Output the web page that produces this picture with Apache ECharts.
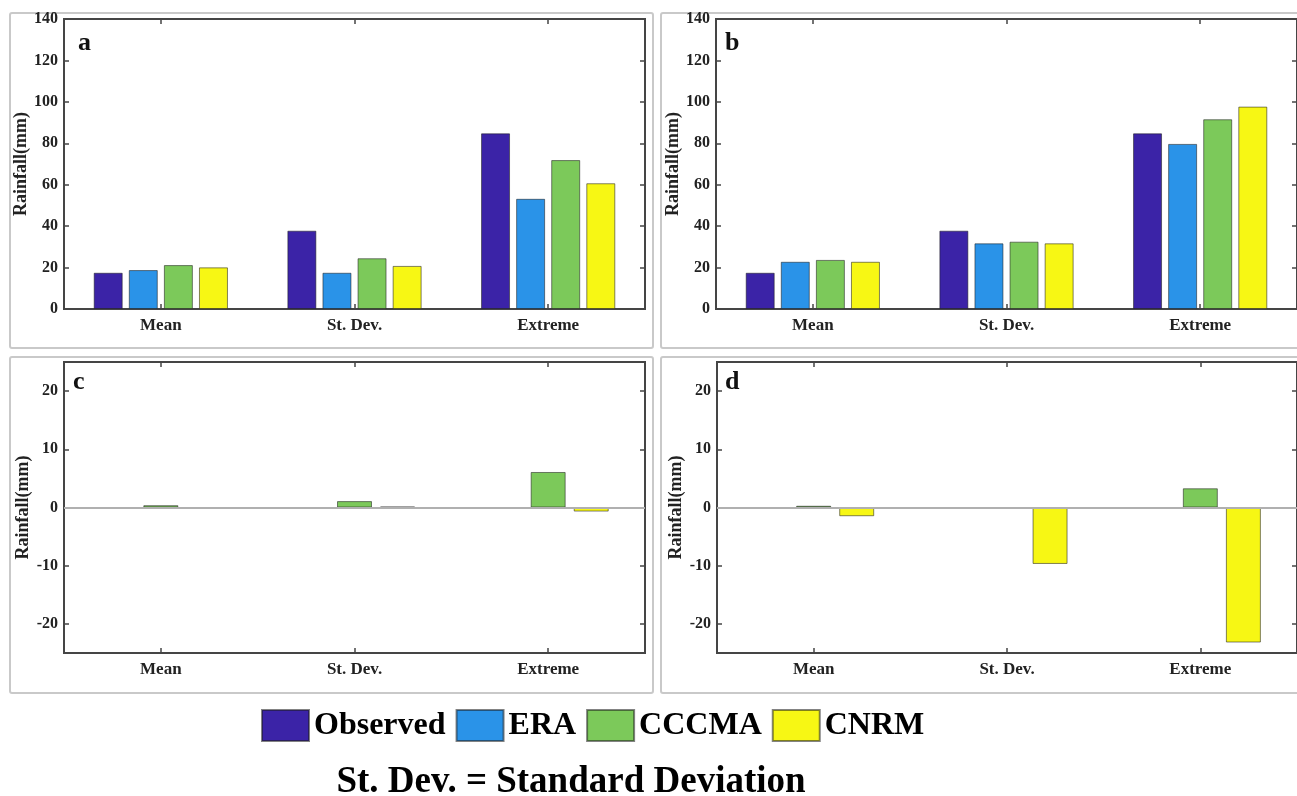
<!DOCTYPE html>
<html>
<head>
<meta charset="utf-8">
<script src="https://cdn.jsdelivr.net/npm/echarts@6/dist/echarts.min.js"></script>
<style>
html,body{margin:0;padding:0;background:#fff;}
#chart{width:1297px;height:796px;}
</style>
</head>
<body>
<div id="chart"></div>
<script>
// ---- Data ----
const categories = ['Mean', 'St. Dev.', 'Extreme'];
const seriesNames = ['Observed', 'ERA', 'CCCMA', 'CNRM'];
const topTicks = [0, 20, 40, 60, 80, 100, 120, 140];
const bottomTicks = [-20, -10, 0, 10, 20];

// panel a
const aObserved = [17.5, 37.8, 84.8];
const aERA = [18.8, 17.5, 53.2];
const aCCCMA = [21.2, 24.5, 71.9];
const aCNRM = [20.1, 20.8, 60.7];
// panel b
const bObserved = [17.5, 37.8, 84.8];
const bERA = [22.8, 31.7, 79.7];
const bCCCMA = [23.7, 32.5, 91.6];
const bCNRM = [22.8, 31.7, 97.7];
// panel c
const cERA = [0, 0, 0];
const cCCCMA = [0.4, 1.1, 6.1];
const cCNRM = [0, 0.15, -0.7];
// panel d
const dERA = [0, 0, 0];
const dCCCMA = [0.3, -0.2, 3.3];
const dCNRM = [-1.5, -9.7, -23.2];

const colors = {Observed: '#3B23A7', ERA: '#2A93E8', CCCMA: '#7CC95A', CNRM: '#F7F714'};
const FONT = "'Liberation Serif', 'DejaVu Serif', serif";
const AXC = '#454545';

const grids = [
  {left: 64, top: 19, width: 581, height: 290},
  {left: 716, top: 19, width: 581, height: 290},
  {left: 64, top: 362, width: 581, height: 291},
  {left: 717, top: 362, width: 580, height: 291}
];
const nameGaps = [34, 32, 31, 32];

const xAxes = [], yAxes = [];
grids.forEach((g, i) => {
  g.show = true; g.borderColor = AXC; g.borderWidth = 2; g.backgroundColor = '#fff';
  // bottom
  xAxes.push({type: 'category', gridIndex: i, data: categories, position: 'bottom',
    axisLine: {show: false, onZero: false},
    axisTick: {show: true, inside: true, alignWithLabel: true, length: 5, lineStyle: {color: AXC, width: 1.5}},
    axisLabel: {show: true, margin: 8, color: '#222', fontFamily: FONT, fontWeight: 'bold', fontSize: 17},
    splitLine: {show: false}});
  // top
  xAxes.push({type: 'category', gridIndex: i, data: categories, position: 'top',
    axisLine: {show: false, onZero: false},
    axisTick: {show: true, inside: true, alignWithLabel: true, length: 5, lineStyle: {color: AXC, width: 1.5}},
    axisLabel: {show: false}, splitLine: {show: false}});
  const isTop = i < 2;
  const ticks = isTop ? topTicks : bottomTicks;
  const yCommon = {type: 'value', gridIndex: i,
    min: isTop ? 0 : -25, max: isTop ? 140 : 25,
    axisLine: {show: false, onZero: false}, splitLine: {show: false}};
  yAxes.push(Object.assign({}, yCommon, {position: 'left',
    name: 'Rainfall(mm)', nameLocation: 'middle', nameRotate: 90,
    nameGap: nameGaps[i],
    nameTextStyle: {fontFamily: FONT, fontWeight: 'bold', fontSize: 18, color: '#222'},
    axisTick: {show: true, inside: true, length: 5, customValues: ticks, lineStyle: {color: AXC, width: 1.5}},
    axisLabel: {show: true, margin: 6, customValues: ticks, color: '#222', fontFamily: FONT, fontWeight: 'bold', fontSize: 16}}));
  yAxes.push(Object.assign({}, yCommon, {position: 'right',
    axisTick: {show: true, inside: true, length: 5, customValues: ticks, lineStyle: {color: AXC, width: 1.5}},
    axisLabel: {show: false}}));
});

function barSeries(name, data, gi, bw, gap) {
  return {
    type: 'bar', name: name, data: data,
    xAxisIndex: gi * 2, yAxisIndex: gi * 2,
    barWidth: bw, barGap: gap,
    itemStyle: {color: colors[name], borderColor: 'rgba(30,30,30,0.55)', borderWidth: 1},
    emphasis: {disabled: true}, animation: false
  };
}
function zeroLine() {
  return {silent: true, symbol: 'none', label: {show: false},
    lineStyle: {color: '#b0b0b0', type: 'solid', width: 2},
    data: [{yAxis: 0}], animation: false};
}

const series = [
  barSeries('Observed', aObserved, 0, 29, '21%'),
  barSeries('ERA', aERA, 0, 29, '21%'),
  barSeries('CCCMA', aCCCMA, 0, 29, '21%'),
  barSeries('CNRM', aCNRM, 0, 29, '21%'),
  barSeries('Observed', bObserved, 1, 29, '21%'),
  barSeries('ERA', bERA, 1, 29, '21%'),
  barSeries('CCCMA', bCCCMA, 1, 29, '21%'),
  barSeries('CNRM', bCNRM, 1, 29, '21%'),
  Object.assign(barSeries('ERA', cERA, 2, 35, '23%'), {markLine: zeroLine(), z: 1}),
  Object.assign(barSeries('CCCMA', cCCCMA, 2, 35, '23%'), {z: 3}),
  Object.assign(barSeries('CNRM', cCNRM, 2, 35, '23%'), {z: 3}),
  Object.assign(barSeries('ERA', dERA, 3, 35, '23%'), {markLine: zeroLine(), z: 1}),
  Object.assign(barSeries('CCCMA', dCCCMA, 3, 35, '23%'), {z: 3}),
  Object.assign(barSeries('CNRM', dCNRM, 3, 35, '23%'), {z: 3})
];

function frame(x, y, w, h) {
  return {type: 'rect', shape: {x: x, y: y, width: w, height: h, r: 2}, z: -10,
    style: {fill: '#fff', stroke: '#c9c9c9', lineWidth: 2}};
}
function letter(t, x, y) {
  return {type: 'text', x: x, y: y, z: 100,
    style: {text: t, fill: '#111', font: "bold 26px " + FONT, textAlign: 'left', textVerticalAlign: 'middle'}};
}

const option = {
  backgroundColor: '#fff',
  animation: false,
  grid: grids,
  xAxis: xAxes,
  yAxis: yAxes,
  series: series,
  legend: {
    data: seriesNames, left: 261, top: 709, padding: 0,
    itemWidth: 47, itemHeight: 31, itemGap: 10, icon: 'rect',
    textStyle: {fontFamily: FONT, fontWeight: 'bold', fontSize: 32, color: '#000', lineHeight: 31},
    selectedMode: false
  },
  graphic: [
    frame(10, 13, 643, 335),
    frame(661, 13, 640, 335),
    frame(10, 357, 643, 336),
    frame(661, 357, 640, 336),
    letter('a', 78, 43),
    letter('b', 725, 43),
    letter('c', 73, 382),
    letter('d', 725, 382),
    {type: 'text', x: 571, y: 782, z: 100,
      style: {text: 'St. Dev. = Standard Deviation', fill: '#000', font: "bold 37px " + FONT,
        textAlign: 'center', textVerticalAlign: 'middle'}}
  ]
};

const chart = echarts.init(document.getElementById('chart'), null, {renderer: 'canvas'});
chart.setOption(option);
</script>
</body>
</html>
